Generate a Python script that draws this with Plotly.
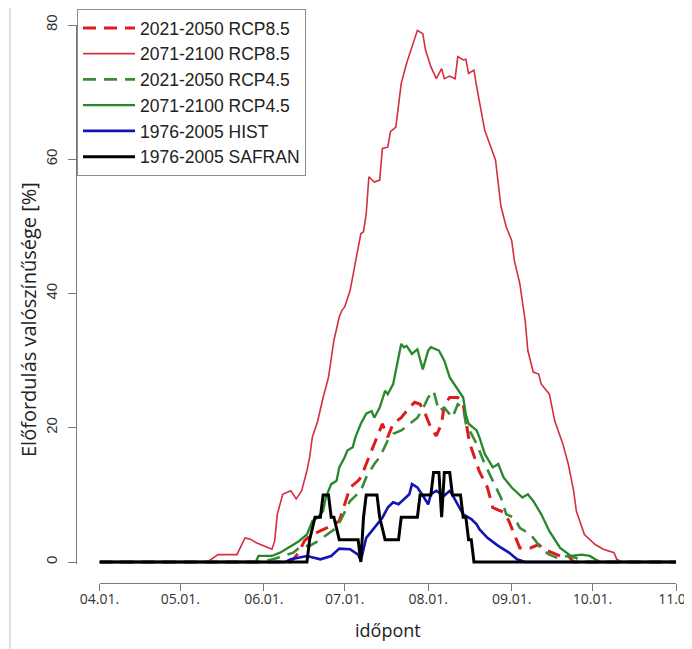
#!/usr/bin/env python3
'''

    - elofordulas valoszinusege, 04.01. - 11.01., RCP / HIST / SAFRAN

'''
import pandas as pd
import plotly.graph_objects as go


season_start = "2001-04-01"

# napok 04.01.-tol szamolva, ertekek [%]
rcp85_2021_days = [0, 71, 74, 76, 78, 82, 86, 89, 91, 93, 96, 97, 99, 102, 104, 105, 107, 109, 112, 115, 117, 119, 121, 123, 125, 127, 128, 130, 133, 135, 137, 138, 141, 144, 146, 150, 152, 154, 156, 160, 163, 165, 168, 171, 174, 176, 214]
rcp85_2021_vals = [0, 0, 1.4, 3.1, 3.9, 4.6, 5.4, 6.1, 8.6, 11.1, 12.1, 12.6, 14.6, 17.6, 19.6, 20.6, 18.6, 20.6, 21.5, 23.0, 23.8, 23.5, 22.0, 20.0, 18.8, 20.6, 23.5, 24.5, 24.5, 23.5, 18.6, 17.0, 13.5, 11.1, 8.1, 7.4, 6.1, 4.1, 2.1, 2.1, 2.6, 1.9, 1.4, 0.9, 0.9, 0, 0]

rcp85_2071_days = [0, 40, 44, 51, 54, 56, 58, 60, 61, 64, 65, 66, 68, 71, 73, 75, 77, 78, 79, 81, 83, 85, 87, 89, 90, 91, 93, 95, 97, 98, 99, 100, 102, 104, 105, 107, 108, 110, 112, 114, 117, 118, 120, 121, 123, 125, 127, 128, 130, 132, 133, 135, 136, 137, 139, 140, 143, 145, 147, 149, 150, 151, 153, 154, 156, 157, 158, 159, 161, 163, 164, 167, 169, 172, 174, 176, 177, 180, 182, 184, 187, 191, 192, 194, 214]
rcp85_2071_vals = [0, 0, 1.1, 1.1, 3.6, 3.4, 2.9, 2.6, 2.4, 1.9, 3.1, 7.1, 10.1, 10.6, 9.4, 10.6, 13.6, 15.6, 18.6, 21.0, 24.5, 27.5, 33.0, 36.5, 37.5, 38.0, 40.4, 44.4, 48.9, 49.2, 51.9, 57.4, 56.6, 56.9, 61.6, 61.8, 64.1, 64.8, 71.3, 74.3, 78.0, 79.2, 78.7, 76.3, 73.8, 72.0, 73.5, 72.0, 72.4, 72.0, 75.3, 74.8, 74.9, 72.8, 73.3, 70.8, 64.3, 62.1, 59.9, 53.0, 51.4, 49.9, 47.9, 44.9, 41.5, 39.0, 36.0, 31.5, 28.3, 28.0, 26.5, 25.0, 21.0, 17.6, 14.6, 10.6, 7.6, 4.1, 3.4, 2.6, 1.9, 1.4, 0.4, 0, 0]

rcp45_2021_days = [0, 60, 65, 72, 75, 78, 81, 84, 88, 90, 93, 97, 99, 102, 104, 107, 109, 112, 115, 118, 120, 122, 124, 126, 128, 131, 133, 135, 136, 140, 143, 146, 149, 151, 154, 156, 160, 162, 164, 167, 170, 174, 177, 179, 214]
rcp45_2021_vals = [0, 0, 0.5, 1.4, 2.4, 2.4, 3.1, 3.9, 5.1, 6.6, 9.1, 10.6, 12.6, 14.6, 15.6, 18.1, 19.1, 19.6, 20.6, 21.5, 22.8, 24.5, 25.5, 22.5, 23.0, 21.5, 23.5, 23.0, 20.6, 17.6, 14.6, 12.1, 9.6, 7.1, 6.6, 5.1, 4.1, 3.1, 1.9, 1.1, 0.6, 0.9, 0.6, 0, 0]

rcp45_2071_days = [0, 58, 59, 64, 67, 71, 74, 77, 79, 81, 83, 84, 86, 88, 89, 91, 92, 94, 95, 97, 99, 101, 102, 104, 106, 107, 109, 112, 113, 114, 116, 118, 120, 122, 123, 126, 128, 130, 132, 135, 136, 137, 140, 141, 143, 146, 148, 150, 153, 157, 159, 161, 164, 167, 171, 175, 179, 182, 184, 186, 214]
rcp45_2071_vals = [0, 0, 0.9, 0.9, 1.4, 2.4, 3.1, 4.1, 6.1, 6.6, 7.6, 9.6, 11.6, 12.1, 14.1, 15.6, 16.6, 17.1, 18.6, 20.6, 22.1, 22.5, 21.5, 23.0, 25.5, 25.0, 26.5, 32.5, 32.0, 32.2, 31.0, 31.7, 28.7, 31.5, 32.0, 31.5, 30.0, 27.5, 26.3, 24.5, 22.0, 20.6, 19.6, 18.6, 16.1, 14.1, 14.6, 12.6, 11.1, 9.6, 10.1, 9.1, 7.1, 4.6, 2.1, 0.9, 1.1, 0.9, 0.4, 0, 0]

hist_days = [0, 69, 71, 77, 82, 86, 89, 93, 96, 97, 99, 101, 103, 105, 107, 109, 111, 113, 115, 116, 118, 120, 122, 123, 125, 128, 130, 131, 133, 135, 138, 140, 141, 144, 148, 152, 155, 158, 214]
hist_vals = [0, 0, 0.4, 0.9, 0.4, 0.9, 2.0, 1.9, 1.1, 0.2, 3.6, 4.6, 5.6, 6.6, 8.1, 8.9, 8.6, 9.4, 10.1, 11.6, 11.1, 9.9, 8.6, 10.1, 10.6, 9.9, 10.6, 10.0, 8.6, 7.1, 6.4, 5.6, 4.9, 3.6, 2.4, 1.4, 0.4, 0, 0]

safran_days = [0, 77, 78, 80, 82, 83, 85, 86, 87, 89, 96, 97, 98, 99, 103, 104, 106, 111, 112, 118, 119, 123, 124, 126, 127, 128, 130, 131, 134, 135, 136, 137, 138, 139, 214]
safran_vals = [0, 0, 3.33, 6.67, 6.67, 10, 10, 6.67, 6.67, 3.33, 3.33, 0, 6.67, 10, 10, 6.67, 3.33, 3.33, 6.67, 6.67, 10, 10, 13.33, 13.33, 6.67, 13.33, 13.33, 10, 10, 6.67, 6.67, 3.33, 3.33, 0, 0]

tick_dates = ["2001-04-01", "2001-05-01", "2001-06-01", "2001-07-01", "2001-08-01", "2001-09-01", "2001-10-01", "2001-11-01"]
tick_labels = ["04.01.", "05.01.", "06.01.", "07.01.", "08.01.", "09.01.", "10.01.", "11.01"]
y_ticks = [0, 20, 40, 60, 80]


def to_dates(days):
    return pd.Timestamp(season_start) + pd.to_timedelta(days, unit="D")


def main():

    fig = go.Figure()

    series = [
        ("2021-2050 RCP8.5", rcp85_2021_days, rcp85_2021_vals, dict(color="#e01b1b", width=3, dash="13px,8px")),
        ("2071-2100 RCP8.5", rcp85_2071_days, rcp85_2071_vals, dict(color="#d1303c", width=1.6)),
        ("2021-2050 RCP4.5", rcp45_2021_days, rcp45_2021_vals, dict(color="#3a8a3a", width=2.6, dash="13px,8px")),
        ("2071-2100 RCP4.5", rcp45_2071_days, rcp45_2071_vals, dict(color="#27882a", width=2.3)),
        ("1976-2005 HIST", hist_days, hist_vals, dict(color="#1414b4", width=2.6)),
        ("1976-2005 SAFRAN", safran_days, safran_vals, dict(color="#000000", width=3)),
    ]

    for name, days, vals, line_dict in series:
        fig.add_trace(go.Scatter(
            x=to_dates(days), y=vals,
            name=name,
            mode='lines',
            line=line_dict,
        ))

    # keret bal szelen
    fig.add_shape(type="line", xref="paper", yref="paper",
                  x0=-0.11, x1=-0.11, y0=-0.2, y1=1.2,
                  line=dict(color="#d6d6d6", width=1.5))

    # tengelyfeliratok
    fig.add_annotation(text="Előfordulás valószínűsége [%]", textangle=-90,
                       xref="paper", yref="paper", x=-0.08, y=0.4713,
                       xanchor="center", yanchor="middle", showarrow=False,
                       font=dict(family="Open Sans", size=20, color="#222222"))
    fig.add_annotation(text="időpont",
                       xref="paper", yref="paper", x=0.52, y=-0.0842,
                       xanchor="center", yanchor="middle", showarrow=False,
                       font=dict(family="Open Sans", size=18, color="#222222"))

    # a lap 8 px-es margoja miatt 684x641
    fig.update_layout(
        width=684, height=641,
        margin=dict(l=68, r=16, t=17, b=66, autoexpand=False),
        paper_bgcolor="white",
        plot_bgcolor="white",
        showlegend=True,
        legend=dict(
            xref="container", yref="container",
            x=69 / 684, xanchor="left",
            y=1 - 1 / 641, yanchor="top",
            bgcolor="white",
            bordercolor="#8c8c8c",
            borderwidth=1,
            font=dict(family="Liberation Sans, Arial", size=17.5, color="#222222"),
            itemwidth=52,
            tracegroupgap=0,
        ),
        xaxis=dict(
            type='date',
            domain=[0.0392, 1],
            anchor="free",
            position=0,
            range=[tick_dates[0], tick_dates[-1]],
            tickmode="array",
            tickvals=tick_dates,
            ticktext=tick_labels,
            ticks="outside",
            ticklen=7,
            tickcolor="#7a7a7a",
            showline=True,
            linecolor="#7a7a7a",
            linewidth=1,
            showgrid=False,
            zeroline=False,
            automargin=False,
            ticklabeloverflow="allow",
            ticklabelstandoff=-4,
            tickfont=dict(family="Open Sans", size=14, color="#333333"),
        ),
        yaxis=dict(
            domain=[0.034, 1],
            anchor="free",
            position=0,
            range=[-0.3, 80],
            tickmode="array",
            tickvals=y_ticks,
            tickangle=-90,
            ticks="outside",
            ticklen=8,
            tickcolor="#7a7a7a",
            showline=True,
            linecolor="#7a7a7a",
            linewidth=1,
            showgrid=False,
            zeroline=False,
            automargin=False,
            tickfont=dict(family="Liberation Sans, Arial", size=15, color="#333333"),
            ticklabelstandoff=5,
        ),
    )

    fig.write_html("out.html")


if __name__ == '__main__':
    main()
